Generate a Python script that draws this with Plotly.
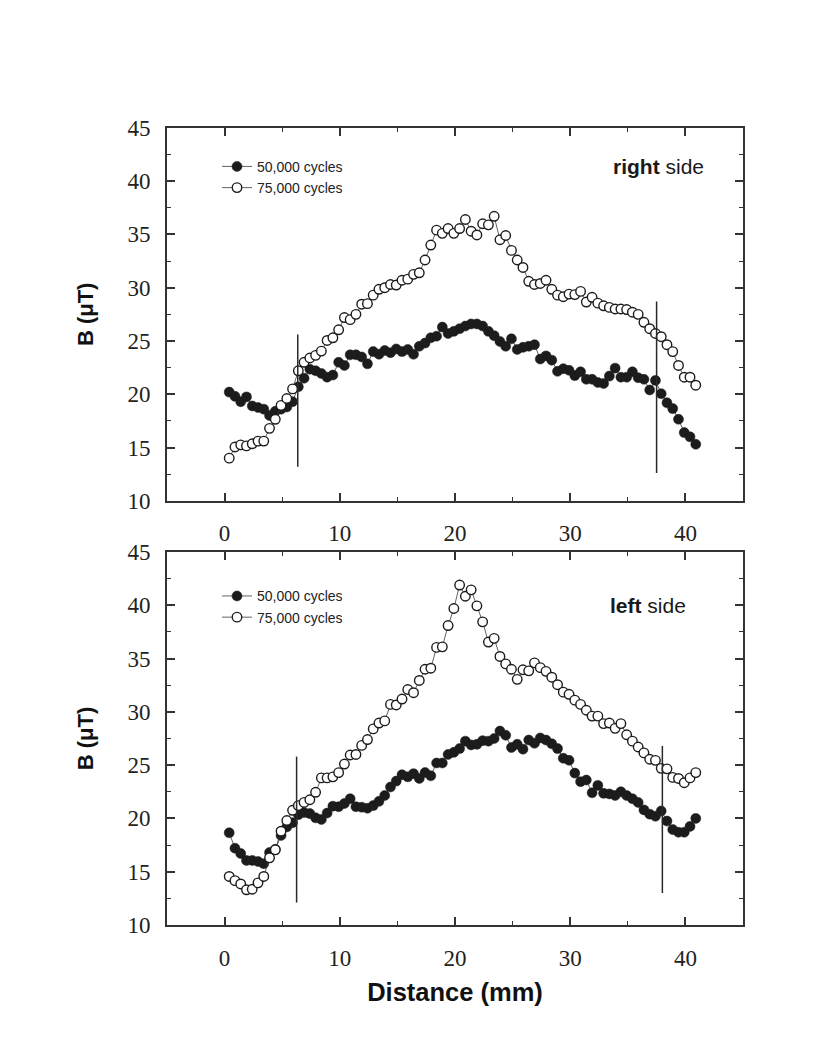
import plotly.graph_objects as go

# ---- data ----
distance_mm = [0.4, 0.9, 1.4, 1.9, 2.4, 2.9, 3.4, 3.9, 4.4, 4.9,
               5.4, 5.9, 6.4, 6.9, 7.4, 7.9, 8.4, 8.9, 9.4, 9.9,
               10.4, 10.9, 11.4, 11.9, 12.4, 12.9, 13.4, 13.9, 14.4, 14.9,
               15.4, 15.9, 16.4, 16.9, 17.4, 17.9, 18.4, 18.9, 19.4, 19.9,
               20.4, 20.9, 21.4, 21.9, 22.4, 22.9, 23.4, 23.9, 24.4, 24.9,
               25.4, 25.9, 26.4, 26.9, 27.4, 27.9, 28.4, 28.9, 29.4, 29.9,
               30.4, 30.9, 31.4, 31.9, 32.4, 32.9, 33.4, 33.9, 34.4, 34.9,
               35.4, 35.9, 36.4, 36.9, 37.4, 37.9, 38.4, 38.9, 39.4, 39.9,
               40.4, 40.9]

right_50k = [20.2, 19.8, 19.3, 19.75, 18.9, 18.75, 18.6, 18.0, 18.4, 18.6,
             18.8, 19.3, 20.7, 21.5, 22.35, 22.2, 21.95, 21.6, 21.8, 23.0,
             22.7, 23.7, 23.7, 23.5, 22.85, 24.0, 23.75, 24.1, 23.9, 24.25,
             24.0, 24.2, 23.75, 24.5, 24.8, 25.3, 25.45, 26.3, 25.7, 25.9,
             26.15, 26.4, 26.6, 26.6, 26.4, 25.9, 25.5, 24.95, 24.5, 25.2,
             24.2, 24.4, 24.5, 24.65, 23.3, 23.6, 23.2, 22.15, 22.4, 22.25,
             21.75, 22.1, 21.4, 21.4, 21.1, 21.0, 21.7, 22.45, 21.6, 21.6,
             22.1, 21.55, 21.4, 20.4, 21.3, 20.05, 19.2, 18.65, 17.65, 16.4,
             16.0, 15.3]

right_75k = [14.0, 15.05, 15.25, 15.15, 15.35, 15.6, 15.6, 16.8, 17.65, 18.95,
             19.6, 20.5, 22.2, 23.0, 23.4, 23.65, 24.05, 25.05, 25.3, 26.05,
             27.2, 27.0, 27.5, 28.45, 28.5, 29.3, 29.85, 30.0, 30.3, 30.25,
             30.7, 30.8, 31.25, 31.4, 32.6, 34.0, 35.4, 35.1, 35.55, 35.1,
             35.55, 36.4, 35.3, 34.95, 36.0, 35.9, 36.7, 34.5, 34.9, 33.5,
             32.6, 31.9, 30.6, 30.3, 30.4, 30.7, 29.85, 29.3, 29.15, 29.4,
             29.35, 29.65, 28.65, 29.1, 28.55, 28.3, 28.15, 28.0, 28.0, 27.95,
             27.7, 27.5, 26.75, 26.15, 25.7, 25.4, 24.65, 24.0, 22.7, 21.6,
             21.6, 20.85]

left_50k = [18.65, 17.2, 16.7, 16.05, 16.05, 15.95, 15.75, 16.8, 17.1, 18.4,
            19.2, 19.6, 20.35, 20.55, 20.45, 20.05, 19.9, 20.5, 21.15, 21.1,
            21.4, 21.85, 21.1, 21.05, 20.95, 21.2, 21.6, 22.15, 22.95, 23.5,
            24.1, 23.9, 24.2, 23.75, 24.3, 24.0, 25.2, 25.2, 26.0, 26.2,
            26.55, 27.25, 26.9, 26.95, 27.3, 27.25, 27.5, 28.2, 27.8, 26.65,
            26.95, 26.5, 27.35, 27.05, 27.55, 27.35, 27.0, 26.55, 25.65, 25.45,
            24.25, 23.45, 23.6, 22.4, 23.1, 22.35, 22.3, 22.15, 22.5, 22.15,
            21.85, 21.5, 20.8, 20.4, 20.2, 20.7, 19.75, 18.95, 18.7, 18.7,
            19.25, 20.0]

left_75k = [14.55, 14.16, 13.85, 13.3, 13.35, 13.95, 14.55, 16.3, 17.05, 18.8,
            19.8, 20.76, 21.2, 21.5, 21.75, 22.45, 23.8, 23.8, 23.9, 24.3,
            25.1, 25.95, 26.0, 26.85, 27.4, 28.4, 28.95, 29.15, 30.7, 30.65,
            31.2, 32.1, 31.8, 32.95, 34.0, 34.1, 36.05, 36.1, 38.1, 39.7,
            41.9, 40.85, 41.45, 39.95, 38.45, 36.55, 36.9, 35.2, 34.5, 34.0,
            33.05, 33.95, 33.85, 34.6, 34.15, 33.8, 33.25, 32.55, 31.85, 31.65,
            31.1, 30.7, 30.15, 29.6, 29.6, 28.9, 28.95, 28.45, 28.9, 27.85,
            27.25, 26.7, 26.15, 25.55, 25.45, 24.7, 24.65, 23.85, 23.75, 23.35,
            23.8, 24.3]

# vertical boundary markers: x position, lower end, upper end
right_bound_x = [6.35, 37.5]
right_bound_lo = [13.2, 12.6]
right_bound_hi = [25.6, 28.7]
left_bound_x = [6.25, 38.0]
left_bound_lo = [12.1, 13.0]
left_bound_hi = [25.8, 26.8]

series_names = ["50,000 cycles", "75,000 cycles"]
panel_labels = ["<b>right</b> side", "<b>left</b> side"]
x_ticks = [0, 10, 20, 30, 40]
y_ticks = [10, 15, 20, 25, 30, 35, 40, 45]

INK = "#1c1c1c"
W, H = 837, 1051
OFF = 8  # page body margin offset compensation (px)

def px_x(p):
    return (p - OFF) / W

def px_y(p):
    return 1 - (p - OFF) / H

fig = go.Figure()

panels = [
    ("x", "y", "legend", right_50k, right_75k, right_bound_x, right_bound_lo, right_bound_hi),
    ("x2", "y2", "legend2", left_50k, left_75k, left_bound_x, left_bound_lo, left_bound_hi),
]

for xa, ya, leg, s50, s75, bx, blo, bhi in panels:
    fig.add_trace(go.Scatter(
        x=distance_mm, y=s50, name=series_names[0], mode="lines+markers",
        xaxis=xa, yaxis=ya, legend=leg,
        line=dict(color="#3a3a3a", width=0.8),
        marker=dict(symbol="circle", size=10, color=INK, line=dict(color=INK, width=0.5)),
    ))
    fig.add_trace(go.Scatter(
        x=distance_mm, y=s75, name=series_names[1], mode="lines+markers",
        xaxis=xa, yaxis=ya, legend=leg,
        line=dict(color="#3a3a3a", width=0.8),
        marker=dict(symbol="circle", size=9.5, color="white", line=dict(color=INK, width=1.4)),
    ))
    for xv, lo, hi in zip(bx, blo, bhi):
        fig.add_shape(type="line", xref=xa, yref=ya, x0=xv, x1=xv, y0=lo, y1=hi,
                      line=dict(color="#2a2a2a", width=1.5))

x_dom = [px_x(167), px_x(743)]
top_dom = [px_y(500.5), px_y(118.5)]
bot_dom = [px_y(935), px_y(553)]

tick_font = dict(family="Liberation Serif, Times New Roman, serif", size=23, color="#222")
title_font_y = dict(family="Liberation Sans, Arial, sans-serif", size=22, color="#111")
title_font_x = dict(family="Liberation Sans, Arial, sans-serif", size=25.5, color="#111")

def xaxis_cfg(anchor, title=None):
    d = dict(domain=x_dom, anchor=anchor, range=[-5, 45], tickvals=x_ticks,
             ticks="inside", ticklen=8, tickwidth=1.5, tickcolor="#333",
             showline=True, linewidth=2, linecolor="#333", mirror="ticks",
             showgrid=False, zeroline=False, tickfont=tick_font,
             ticklabelstandoff=11,
             minor=dict(ticks="inside", ticklen=4, tickwidth=1.2, tickcolor="#333", dtick=5, tick0=0))
    if title:
        d["title"] = dict(text=title, font=title_font_x, standoff=14)
    return d

def yaxis_cfg(anchor, dom):
    return dict(domain=dom, anchor=anchor, range=[10, 45], tickvals=y_ticks,
                ticks="inside", ticklen=8, tickwidth=1.5, tickcolor="#333",
                showline=True, linewidth=2, linecolor="#333", mirror="ticks",
                showgrid=False, zeroline=False, tickfont=tick_font,
                ticklabelstandoff=10,
                minor=dict(ticks="inside", ticklen=4, tickwidth=1.2, tickcolor="#333", dtick=2.5, tick0=10),
                title=dict(text="<b>B (μT)</b>", font=title_font_y, standoff=28))

legend_common = dict(xanchor="left", yanchor="top", bgcolor="rgba(0,0,0,0)",
                     font=dict(family="Liberation Sans, Arial, sans-serif", size=14, color="#222"),
                     tracegroupgap=0, itemclick=False)

fig.update_layout(
    width=W, height=H,
    margin=dict(l=0, r=0, t=0, b=0),
    paper_bgcolor="white", plot_bgcolor="white",
    xaxis=xaxis_cfg("y"),
    yaxis=yaxis_cfg("x", top_dom),
    xaxis2=xaxis_cfg("y2", "<b>Distance (mm)</b>"),
    yaxis2=yaxis_cfg("x2", bot_dom),
    legend=dict(x=px_x(217), y=px_y(142), **legend_common),
    legend2=dict(x=px_x(217), y=px_y(582), **legend_common),
    annotations=[
        dict(text=panel_labels[0], x=px_x(658), y=px_y(158), xref="paper", yref="paper",
             xanchor="center", yanchor="middle", showarrow=False,
             font=dict(family="Liberation Sans, Arial, sans-serif", size=21, color="#1a1a1a")),
        dict(text=panel_labels[1], x=px_x(648), y=px_y(608), xref="paper", yref="paper",
             xanchor="center", yanchor="middle", showarrow=False,
             font=dict(family="Liberation Sans, Arial, sans-serif", size=21, color="#1a1a1a")),
    ],
)

fig.write_html("out.html")
